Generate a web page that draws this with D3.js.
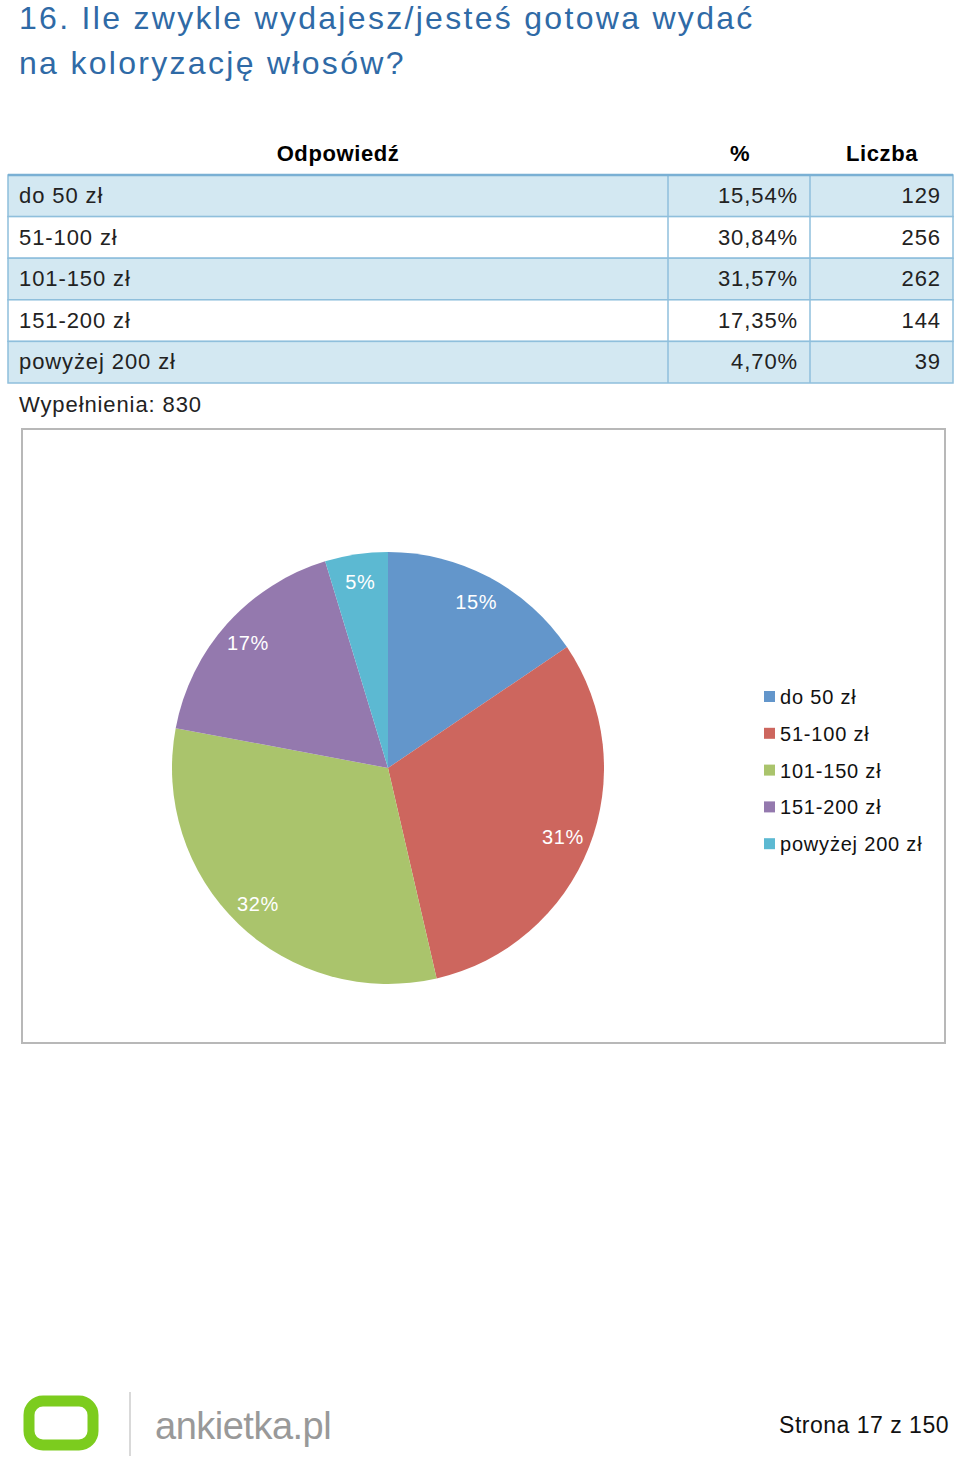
<!DOCTYPE html>
<html><head><meta charset="utf-8">
<script src="https://cdn.jsdelivr.net/npm/d3@7"></script>
<style>body{margin:0;background:#fff}text{font-family:"Liberation Sans",Arial,sans-serif}</style>
</head><body>
<svg id="c" width="960" height="1460"></svg>
<script>
const categories = ['do 50 zł', '51-100 zł', '101-150 zł', '151-200 zł', 'powyżej 200 zł'];
const percents = ['15,54%', '30,84%', '31,57%', '17,35%', '4,70%'];
const counts = [129, 256, 262, 144, 39];
const pieLabels = ['15%', '31%', '32%', '17%', '5%'];
const colors = ['#6396cb', '#cd665e', '#aac46c', '#9479ae', '#5cb9d2'];

const svg = d3.select('#c');

// title
svg.append('text').attr('x', 19).attr('y', 29).attr('font-size', 32).attr('letter-spacing', 2.3).attr('fill', '#2f6aa6')
  .text('16. Ile zwykle wydajesz/jesteś gotowa wydać');
svg.append('text').attr('x', 19).attr('y', 74).attr('font-size', 32).attr('letter-spacing', 2.3).attr('fill', '#2f6aa6')
  .text('na koloryzację włosów?');

// table
const cols = [8, 668, 810, 953];
const rowH = 41.6, tableTop = 175;
const hdr = svg.append('g').attr('font-size', 22).attr('font-weight', 'bold').attr('letter-spacing', 0.6).attr('text-anchor', 'middle');
hdr.append('text').attr('x', 338).attr('y', 161).text('Odpowiedź');
hdr.append('text').attr('x', 740).attr('y', 161).text('%');
hdr.append('text').attr('x', 882).attr('y', 161).text('Liczba');

const rows = svg.append('g').attr('font-size', 22).attr('letter-spacing', 0.9).attr('fill', '#222')
  .selectAll('g').data(categories).join('g')
  .attr('transform', (d, i) => `translate(0,${tableTop + i * rowH})`);
rows.append('rect').attr('x', cols[0]).attr('width', cols[3] - cols[0]).attr('height', rowH)
  .attr('fill', (d, i) => i % 2 === 0 ? '#d3e8f2' : '#fff').attr('stroke', '#8fbfdc').attr('stroke-width', 1.5);
rows.selectAll('line').data([cols[1], cols[2]]).join('line')
  .attr('x1', d => d).attr('x2', d => d).attr('y1', 0).attr('y2', rowH).attr('stroke', '#8fbfdc').attr('stroke-width', 1.5);
rows.append('text').attr('x', 19).attr('y', 28).text(d => d);
rows.append('text').attr('x', 798).attr('y', 28).attr('text-anchor', 'end').text((d, i) => percents[i]);
rows.append('text').attr('x', 941).attr('y', 28).attr('text-anchor', 'end').text((d, i) => counts[i]);
svg.append('line').attr('x1', cols[0]).attr('x2', cols[3]).attr('y1', tableTop).attr('y2', tableTop).attr('stroke', '#7ab0d4').attr('stroke-width', 2.5);

svg.append('text').attr('x', 19).attr('y', 412).attr('font-size', 22).attr('letter-spacing', 0.9).attr('fill', '#222').text('Wypełnienia: ' + d3.sum(counts));

// chart box
svg.append('rect').attr('x', 22).attr('y', 429).attr('width', 923).attr('height', 614)
  .attr('fill', '#fff').attr('stroke', '#b8b8b8').attr('stroke-width', 2);

// pie
const cx = 388, cy = 768, r = 216;
const pie = d3.pie().sort(null)(counts);
const arc = d3.arc().innerRadius(0).outerRadius(r);
const labelArc = d3.arc().innerRadius(r * 0.87).outerRadius(r * 0.87);
const g = svg.append('g').attr('transform', `translate(${cx},${cy})`);
g.selectAll('path').data(pie).join('path').attr('d', arc).attr('fill', (d, i) => colors[i]);
g.selectAll('text').data(pie).join('text')
  .attr('transform', d => `translate(${labelArc.centroid(d)})`)
  .attr('text-anchor', 'middle').attr('dy', '0.35em').attr('font-size', 20).attr('letter-spacing', 0.6).attr('fill', '#fff')
  .text((d, i) => pieLabels[i]);

// legend
const leg = svg.append('g').selectAll('g').data(categories).join('g')
  .attr('transform', (d, i) => `translate(764,${697 + i * 36.8})`);
leg.append('rect').attr('x', 0).attr('y', -6).attr('width', 11).attr('height', 11).attr('fill', (d, i) => colors[i]);
leg.append('text').attr('x', 16).attr('dy', '0.35em').attr('font-size', 20).attr('letter-spacing', 0.8).attr('fill', '#111').text(d => d);

// footer
const logo = svg.append('g');
logo.append('rect').attr('x', 29).attr('y', 1401).attr('width', 64).attr('height', 44).attr('rx', 14)
  .attr('fill', 'none').attr('stroke', '#7ccc1e').attr('stroke-width', 11);
logo.append('line').attr('x1', 130).attr('x2', 130).attr('y1', 1392).attr('y2', 1456).attr('stroke', '#ccc').attr('stroke-width', 1.5);
logo.append('text').attr('x', 155).attr('y', 1439).attr('font-size', 38).attr('letter-spacing', -0.5).attr('fill', '#999').text('ankietka.pl');
svg.append('text').attr('x', 949).attr('y', 1433).attr('text-anchor', 'end').attr('font-size', 23).attr('letter-spacing', 0.5).attr('fill', '#111').text('Strona 17 z 150');
</script>
</body></html>
